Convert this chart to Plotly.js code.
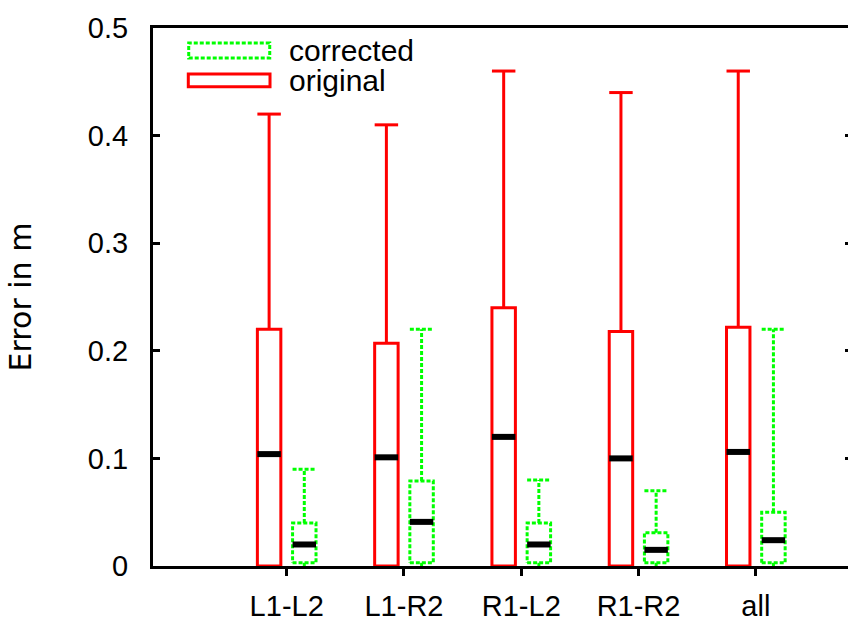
<!DOCTYPE html>
<html>
<head>
<meta charset="utf-8">
<script src="https://cdn.plot.ly/plotly-3.0.1.min.js"></script>
<style>
  html, body { margin: 0; padding: 0; overflow: hidden; background: #fff; }
  #chart { width: 855px; height: 621px; }
</style>
</head>
<body>
<div id="chart"></div>
<script>
// ---- data ----
const categories = ['L1-L2', 'L1-R2', 'R1-L2', 'R1-R2', 'all'];
const catPos = [1, 2, 3, 4, 5];

const origMin    = [0, 0, 0, 0, 0];
const origQ1     = [0, 0, 0, 0, 0];
const origMedian = [0.104, 0.101, 0.120, 0.100, 0.106];
const origQ3     = [0.220, 0.207, 0.240, 0.218, 0.222];
const origMax    = [0.420, 0.410, 0.460, 0.440, 0.460];

const corrMin    = [0, 0, 0, 0, 0];
const corrQ1     = [0.003, 0.003, 0.003, 0.003, 0.003];
const corrMedian = [0.020, 0.041, 0.020, 0.015, 0.024];
const corrQ3     = [0.040, 0.079, 0.040, 0.031, 0.050];
const corrMax    = [0.090, 0.220, 0.080, 0.070, 0.220];

const seriesNames = ['corrected', 'original'];

// ---- build box-and-whisker outlines ----
const HALF = 0.1;     // half box width in category units
function boxPaths(offset, q1, q3, lo, hi) {
  const x = [], y = [];
  catPos.forEach((p, i) => {
    const c = p + offset;
    // box
    x.push(c - HALF, c + HALF, c + HALF, c - HALF, c - HALF, null);
    y.push(q1[i], q1[i], q3[i], q3[i], q1[i], null);
    // upper whisker + cap
    x.push(c, c, null, c - HALF, c + HALF, null);
    y.push(q3[i], hi[i], null, hi[i], hi[i], null);
    // lower whisker
    x.push(c, c, null);
    y.push(q1[i], lo[i], null);
  });
  return {x, y};
}
function medianPaths(offset, med) {
  const x = [], y = [];
  catPos.forEach((p, i) => {
    const c = p + offset;
    x.push(c - HALF, c + HALF, null);
    y.push(med[i], med[i], null);
  });
  return {x, y};
}

const OFF_ORIG = -0.15, OFF_CORR = 0.15;
const corrBox = boxPaths(OFF_CORR, corrQ1, corrQ3, corrMin, corrMax);
const origBox = boxPaths(OFF_ORIG, origQ1, origQ3, origMin, origMax);
const corrMed = medianPaths(OFF_CORR, corrMedian);
const origMed = medianPaths(OFF_ORIG, origMedian);

const GREEN = '#00ff00', RED = '#ff0000';

const traces = [
  { type: 'scatter', mode: 'lines', name: seriesNames[0], x: corrBox.x, y: corrBox.y,
    line: { color: GREEN, width: 3, dash: '4px,2px' }, hoverinfo: 'skip', showlegend: false },
  { type: 'scatter', mode: 'lines', name: seriesNames[1], x: origBox.x, y: origBox.y,
    line: { color: RED, width: 3 }, hoverinfo: 'skip', showlegend: false },
  { type: 'scatter', mode: 'lines', name: 'median corrected', x: corrMed.x, y: corrMed.y,
    line: { color: '#000', width: 6 }, hoverinfo: 'skip', showlegend: false },
  { type: 'scatter', mode: 'lines', name: 'median original', x: origMed.x, y: origMed.y,
    line: { color: '#000', width: 6 }, hoverinfo: 'skip', showlegend: false }
];

const FONT = '"Liberation Sans", Arial, Helvetica, sans-serif';
const TITLE_FONT = '"DejaVu Sans", sans-serif';

const layout = {
  width: 855, height: 621,
  margin: { l: 153, r: 3, t: 28, b: 55, pad: 0 },
  paper_bgcolor: '#fff', plot_bgcolor: '#fff',
  font: { family: FONT, size: 29, color: '#000' },
  showlegend: false,
  xaxis: {
    range: [-0.14, 5.82],
    tickmode: 'array', tickvals: catPos, ticktext: categories,
    ticks: 'outside', ticklen: 7, tickwidth: 3, tickcolor: '#000',
    showline: true, linewidth: 3, linecolor: '#000', mirror: true,
    showgrid: false, zeroline: false,
    tickfont: { family: FONT, size: 29, color: '#000' },
    ticklabelstandoff: 5
  },
  yaxis: {
    range: [0, 0.5], tickmode: 'linear', tick0: 0, dtick: 0.1,
    ticks: 'inside', ticklen: 7, tickwidth: 3, tickcolor: '#000',
    showline: true, linewidth: 3, linecolor: '#000', mirror: 'ticks',
    showgrid: false, zeroline: false,
    tickfont: { family: FONT, size: 29, color: '#000' },
    ticklabelstandoff: 16,
    title: { text: 'Error in m', font: { family: TITLE_FONT, size: 30, color: '#000' }, standoff: 48 }
  },
  shapes: [
    { type: 'rect', xref: 'paper', yref: 'paper', x0: 0.0511, x1: 0.1670, y0: 0.9442, y1: 0.9721,
      line: { color: GREEN, width: 3, dash: '4px,2px' }, fillcolor: 'rgba(0,0,0,0)' },
    { type: 'rect', xref: 'paper', yref: 'paper', x0: 0.0505, x1: 0.1674, y0: 0.8909, y1: 0.9145,
      line: { color: RED, width: 3 }, fillcolor: 'rgba(0,0,0,0)' }
  ],
  annotations: [
    { xref: 'paper', yref: 'paper', x: 0.192, y: 0.9582, xanchor: 'left', yanchor: 'middle',
      text: seriesNames[0], showarrow: false, font: { family: FONT, size: 30, color: '#000' } },
    { xref: 'paper', yref: 'paper', x: 0.192, y: 0.9026, xanchor: 'left', yanchor: 'middle',
      text: seriesNames[1], showarrow: false, font: { family: FONT, size: 30, color: '#000' } }
  ]
};

Plotly.newPlot('chart', traces, layout, { staticPlot: true, displayModeBar: false });
</script>
</body>
</html>
